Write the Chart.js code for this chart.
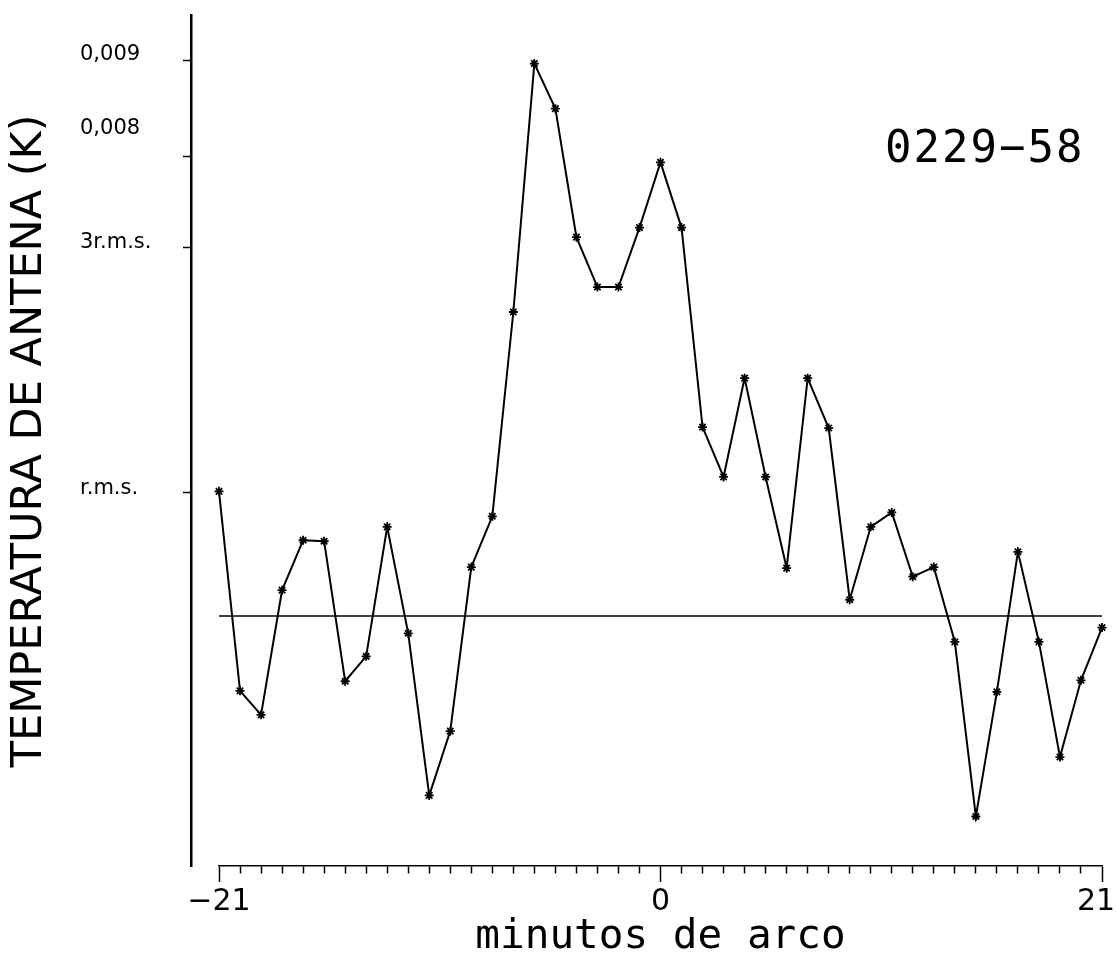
<!DOCTYPE html>
<html>
<head>
<meta charset="utf-8">
<script src="https://cdn.jsdelivr.net/npm/chart.js@4.4.0/dist/chart.umd.min.js"></script>
<style>
body { margin: 0; background: #fff; }
#caja { width: 1116px; height: 958px; }
</style>
</head>
<body>
<div id="caja"><canvas id="grafico"></canvas></div>
<script>
// minutos de arco (una medida por minuto)
const minutos = [-21, -20, -19, -18, -17, -16, -15, -14, -13, -12, -11, -10, -9, -8, -7, -6, -5, -4, -3, -2, -1,
                 0, 1, 2, 3, 4, 5, 6, 7, 8, 9, 10, 11, 12, 13, 14, 15, 16, 17, 18, 19, 20, 21];
// temperatura de antena (K)
const temperatura = [
  0.00451, 0.00243, 0.00218, 0.00348, 0.00400, 0.00399, 0.00253, 0.00279, 0.00414, 0.00303,
  0.00134, 0.00201, 0.00372, 0.00425, 0.00638, 0.00897, 0.00850, 0.00716, 0.00664, 0.00664,
  0.00726, 0.00794, 0.00726, 0.00518, 0.00466, 0.00569, 0.00466, 0.00371, 0.00569, 0.00517,
  0.00338, 0.00414, 0.00429, 0.00362, 0.00372, 0.00294, 0.00112, 0.00242, 0.00388, 0.00294,
  0.00174, 0.00254, 0.00309
];
const nivelBase = 0.00321;

const yMin = 0.000604;
const yMax = 0.00947;
const yTicks = [0.009, 0.008, 0.00705, 0.0045];
const yTickLabels = ['0,009', '0,008', '3r.m.s.', 'r.m.s.'];
const yLabelAt = [0.00906, 0.00829, 0.00710, 0.00454];
const xLabelAt = [-21, 0, 21];
const xLabels = ['\u221221', '0', '21\u2009\u2009'];
const fuente = '0229\u221258';

Chart.defaults.font.family = '"DejaVu Sans", sans-serif';
Chart.defaults.color = '#000';

const puntos = minutos.map((m, i) => ({x: m, y: temperatura[i]}));

// nombre de la fuente dentro del grafico
const rotulo = {
  id: 'rotulo',
  afterDraw(chart) {
    const c = chart.ctx;
    c.save();
    c.font = '44px "DejaVu Sans Mono"';
    c.letterSpacing = '2px';
    c.fillStyle = '#000';
    c.textBaseline = 'alphabetic';
    c.fillText(fuente, 885, 162);
    c.restore();
  }
};

let canvas = document.getElementById("grafico").getContext("2d");
var chart = new Chart(canvas, {
  type: 'line',
  data: {
    datasets: [
      {
        label: 'nivel',
        data: [{x: minutos[0], y: nivelBase}, {x: minutos[minutos.length - 1], y: nivelBase}],
        xAxisID: 'x', yAxisID: 'y',
        borderColor: '#000', borderWidth: 1.5, pointRadius: 0
      },
      {
        label: 'T',
        data: puntos,
        xAxisID: 'x', yAxisID: 'y',
        borderColor: '#000', borderWidth: 2,
        pointStyle: 'star', pointRadius: 4.5, pointBorderWidth: 1.8,
        pointBorderColor: '#000', pointBackgroundColor: '#000',
        tension: 0, clip: 10
      }
    ]
  },
  options: {
    responsive: true,
    maintainAspectRatio: false,
    animation: false,
    layout: { padding: { top: 15, right: 14, left: 0, bottom: 0 } },
    plugins: { legend: { display: false }, tooltip: { enabled: false } },
    scales: {
      x: {
        type: 'linear', position: 'bottom', min: -21, max: 21,
        afterBuildTicks: s => { s.ticks = minutos.map(v => ({value: v})); },
        afterFit: s => { s.height = 92; s.paddingLeft = 0; s.paddingRight = 0; },
        border: { display: true, color: '#000', width: 1.5 },
        grid: {
          drawOnChartArea: false, color: '#000', tickLength: 16, tickWidth: 1.5,
          tickBorderDash: c => (c.tick && xLabelAt.includes(c.tick.value)) ? [] : [7, 30]
        },
        ticks: {
          autoSkip: false, maxRotation: 0, minRotation: 0, padding: 2,
          font: { size: 30 },
          callback: v => { const i = xLabelAt.indexOf(v); return i < 0 ? '' : xLabels[i]; }
        },
        title: {
          display: true, text: 'minutos de arco',
          font: { family: '"DejaVu Sans Mono", monospace', size: 41, lineHeight: 1 },
          padding: { top: 0, bottom: 0 }
        }
      },
      y: {
        type: 'linear', position: { x: -22.33 }, min: yMin, max: yMax,
        afterBuildTicks: s => { s.ticks = yTicks.map(v => ({value: v})); },
        border: { color: '#000', width: 2.5 },
        grid: { drawOnChartArea: false, color: '#000', tickLength: 7, tickWidth: 1.5 },
        ticks: { display: false }
      },
      yl: {
        type: 'linear', position: 'left', weight: 5, min: yMin, max: yMax,
        afterBuildTicks: s => { s.ticks = yLabelAt.map(v => ({value: v})); },
        afterFit: s => { s.width = 139; },
        border: { display: false },
        grid: { display: false },
        ticks: { crossAlign: 'far', font: { size: 21 }, callback: (v, i) => yTickLabels[i] }
      },
      yt: {
        type: 'linear', position: 'left', weight: 10,
        afterFit: s => { s.width = 80; },
        border: { display: false },
        grid: { display: false },
        ticks: { display: false },
        title: {
          display: true, text: 'TEMPERATURA DE ANTENA (K)',
          font: { size: 43, lineHeight: 1 },
          padding: { top: 8, bottom: 0 }
        }
      }
    }
  },
  plugins: [rotulo]
});
</script>
</body>
</html>
